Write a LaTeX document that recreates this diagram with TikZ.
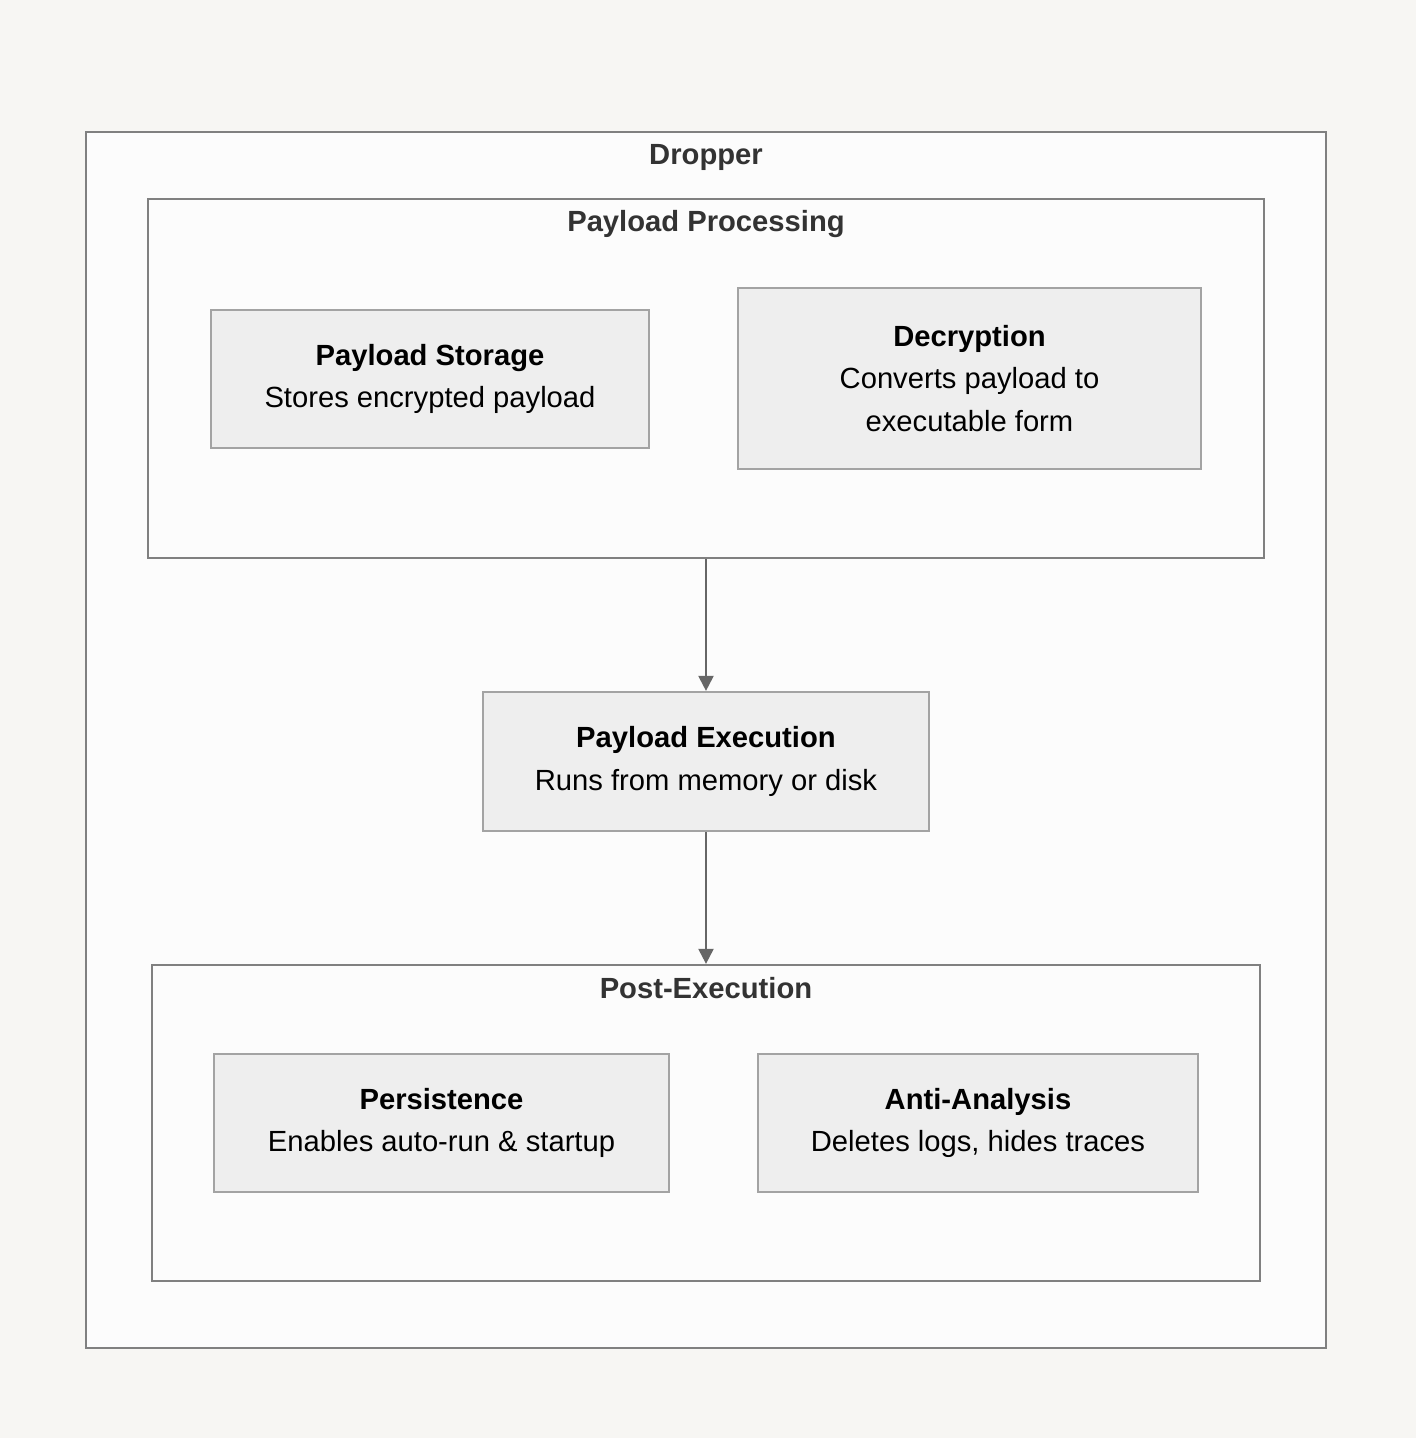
\documentclass[tikz,border=0pt]{standalone}
\usepackage{fontspec}
\setmainfont{Liberation Sans}
\usetikzlibrary{arrows.meta}
\definecolor{pagebg}{HTML}{F7F6F3}
\definecolor{clusterfill}{HTML}{FCFCFC}
\definecolor{clusterline}{HTML}{808080}
\definecolor{boxfill}{HTML}{EEEEEE}
\definecolor{boxline}{HTML}{A3A3A3}
\definecolor{titletext}{HTML}{333333}
\definecolor{arrowline}{HTML}{666666}
\tikzset{
  cluster/.style={draw=clusterline, fill=clusterfill, line width=0.6pt, inner sep=0pt},
  clustertitle/.style={font=\fontsize{8.3}{12}\selectfont\bfseries, text=titletext},
  stagebox/.style={draw=boxline, fill=boxfill, line width=0.6pt, align=center,
    font=\fontsize{8.3}{12}\selectfont, inner sep=0pt},
  flow/.style={draw=arrowline, line width=0.6pt, -{Triangle[length=0.15cm,width=0.15cm]}}
}
\begin{document}
\begin{tikzpicture}[x=0.01cm, y=-0.01cm]
% Page
\fill[pagebg] (0,0) rectangle (1416,1438);
\useasboundingbox (0,0) rectangle (1416,1438);
% Outer cluster
\node[cluster, minimum width=12.40cm, minimum height=12.16cm] (dropper) at (706,740) {};
\node[clustertitle] (droppertitle) at (706,157) {Dropper};
% Payload processing
\node[cluster, minimum width=11.16cm, minimum height=3.59cm] (proc) at (706,378.5) {};
\node[clustertitle] (proctitle) at (706,224) {Payload Processing};
\node[stagebox, minimum width=4.38cm, minimum height=1.38cm] (storage) at (430,379)
  {\textbf{Payload Storage}\\Stores encrypted payload};
\node[stagebox, minimum width=4.63cm, minimum height=1.81cm] (decrypt) at (969.5,378.5)
  {\textbf{Decryption}\\Converts payload to\\executable form};
% Execution
\node[stagebox, minimum width=4.46cm, minimum height=1.39cm] (exec) at (706,761.5)
  {\textbf{Payload Execution}\\Runs from memory or disk};
% Post-execution
\node[cluster, minimum width=11.08cm, minimum height=3.16cm] (post) at (706,1123) {};
\node[clustertitle] (posttitle) at (706,988) {Post-Execution};
\node[stagebox, minimum width=4.55cm, minimum height=1.38cm] (persist) at (441.5,1123)
  {\textbf{Persistence}\\Enables auto-run \& startup};
\node[stagebox, minimum width=4.40cm, minimum height=1.38cm] (anti) at (978,1123)
  {\textbf{Anti-Analysis}\\Deletes logs, hides traces};
% Arrows
\draw[flow] (proc.south) -- (exec.north);
\draw[flow] (exec.south) -- (post.north);
\end{tikzpicture}
\end{document}
